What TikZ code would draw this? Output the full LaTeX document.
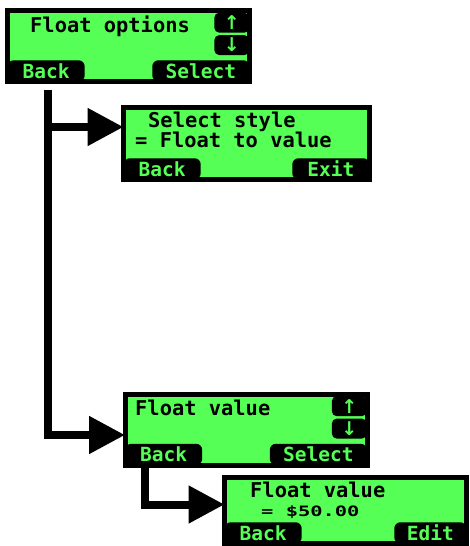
\documentclass[tikz,border=0pt]{standalone}
\usepackage{fontspec}
\setmainfont{DejaVu Sans Mono}
\newfontfamily\arrowfont{DejaVu Sans}
\usepackage{tikz}
\usepackage{xcolor}
\usetikzlibrary{arrows.meta}
\definecolor{lcdgreen}{RGB}{85,255,85}

\begin{document}
\begin{tikzpicture}[x=1pt, y=-1pt,
    screen/.style={draw=black, line width=5pt, fill=lcdgreen, minimum width=242pt, minimum height=71pt, inner sep=0pt, outer sep=0pt},
    lcdtext/.style={anchor=base west, inner sep=0pt, font=\bfseries\fontsize{20.4}{22}\selectfont},
    softkey/.style={fill=black, text=lcdgreen, rounded corners=6pt, minimum height=21pt, inner sep=0pt, font=\bfseries\fontsize{19.5}{20}\selectfont},
    arrowkey/.style={fill=black, text=lcdgreen, rounded corners=5pt, minimum width=35pt, minimum height=20pt, inner sep=0pt, font=\arrowfont\bfseries\fontsize{19}{19}\selectfont},
    conn/.style={line width=8pt, -{Triangle[length=36pt,width=36pt]}}]
    \useasboundingbox (0,0) rectangle (469,546);
    \clip (0,0) rectangle (469,546);

    % screens
    \node[screen] (opts) at (128.5,46) {};
    \node[screen, minimum width=246pt, minimum height=72pt] (style) at (246.5,143.5) {};
    \node[screen] (value) at (246,429.5) {};
    \node[screen, minimum height=66pt] (edit) at (345.5,510.5) {};

    % screen texts
    \node[lcdtext] (optstitle) at (30,32) {Float options};
    \node[lcdtext] (styletitle) at (148,127) {Select style};
    \node[lcdtext] (styleval) at (135,147) {= Float to value};
    \node[lcdtext] (valuetitle) at (135,415) {Float value};
    \node[lcdtext] (edittitle) at (250,497) {Float value};
    \node[lcdtext] (editval) at (261,516) {\scalebox{1}[0.7]{= \$50.00}};

    % soft keys
    \node[softkey, minimum width=77pt, anchor=south west] (optsback) at (opts.south west) {Back};
    \node[softkey, minimum width=97pt, anchor=south east] (optssel) at (opts.south east) {Select};
    \node[softkey, minimum width=77pt, anchor=south west] (styleback) at (style.south west) {Back};
    \node[softkey, minimum width=77pt, anchor=south east] (styleexit) at (style.south east) {Exit};
    \node[softkey, minimum width=77pt, anchor=south west] (valueback) at (value.south west) {Back};
    \node[softkey, minimum width=97pt, anchor=south east] (valuesel) at (value.south east) {Select};
    \node[softkey, minimum width=77pt, anchor=south west] (editback) at (edit.south west) {Back};
    \node[softkey, minimum width=72pt, anchor=south east] (editedit) at (edit.south east) {Edit};

    % up/down keys
    \node[arrowkey, anchor=north east] (optsup) at ([yshift=-2pt]opts.north east) {↑};
    \node[arrowkey, anchor=north] (optsdown) at ([yshift=-2pt]optsup.south) {↓};
    \node[arrowkey, anchor=north east] (valueup) at ([yshift=-2pt]value.north east) {↑};
    \node[arrowkey, anchor=north] (valuedown) at ([yshift=-2pt]valueup.south) {↓};

    % connectors
    \coordinate (trunk) at (48,90);
    \draw[conn] (trunk) |- ([yshift=-5.5pt]value.west);
    \draw[conn] ([yshift=16.5pt]style.west -| trunk) -- ([yshift=16.5pt]style.west);
    \draw[conn] ([xshift=19.5pt]value.south west) |- ([yshift=6pt]edit.west);
\end{tikzpicture}
\end{document}
